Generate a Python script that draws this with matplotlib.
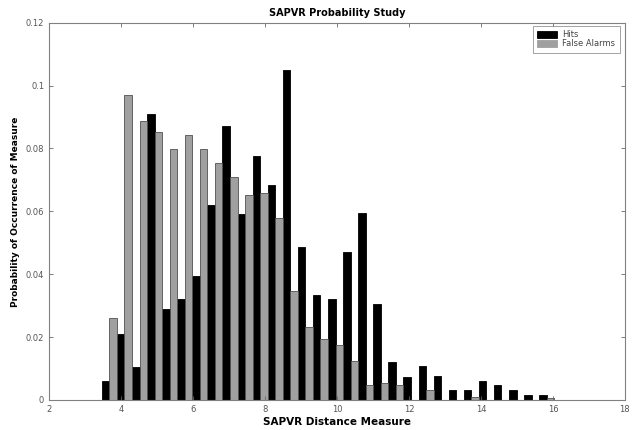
import numpy as np
import matplotlib
matplotlib.use("Agg")
import matplotlib.pyplot as plt

# bin centres of the histogram (pairs of bars share a bin)
first_bin = 3.676
bin_step = 0.419
n_bins = 30

hits = [0.006, 0.021, 0.0106, 0.091, 0.029, 0.032, 0.0395, 0.062, 0.087, 0.059,
        0.0775, 0.0685, 0.105, 0.0486, 0.0333, 0.032, 0.0472, 0.0594, 0.0304, 0.0122,
        0.0074, 0.0107, 0.0075, 0.003, 0.003, 0.0059, 0.0046, 0.003, 0.0015, 0.0015]
false_alarms = [0.026, 0.097, 0.0888, 0.0851, 0.0799, 0.0843, 0.0799, 0.0754, 0.0709, 0.0653,
                0.0658, 0.058, 0.0346, 0.0231, 0.0194, 0.0175, 0.0123, 0.0046, 0.0053, 0.0046,
                0.0, 0.0033, 0.0, 0.0, 0.0009, 0.0, 0.0, 0.0, 0.0, 0.0005]

xticks = [2, 4, 6, 8, 10, 12, 14, 16, 18]
yticks = [0, 0.02, 0.04, 0.06, 0.08, 0.1, 0.12]
ytick_labels = ["0", "0.02", "0.04", "0.06", "0.08", "0.1", "0.12"]

centers = first_bin + bin_step * np.arange(n_bins)
w = bin_step / 2

fig = plt.figure(figsize=(6.37, 4.3), dpi=100)
ax = fig.add_axes([0.077, 0.070, 0.904, 0.877])

ax.bar(centers - w / 2, hits, width=w, color='black', edgecolor='black',
       linewidth=0.6, label='Hits')
ax.bar(centers + w / 2, false_alarms, width=w, color='#a0a0a0', edgecolor='#505050',
       linewidth=0.6, label='False Alarms')

ax.set_xlim(2, 18)
ax.set_ylim(0, 0.12)
ax.set_xticks(xticks)
ax.set_yticks(yticks)
ax.set_yticklabels(ytick_labels)
ax.tick_params(direction='in', top=True, right=True, length=3, width=0.6,
               labelsize=6, colors='#666666', labelcolor='#555555')
for s in ax.spines.values():
    s.set_color('#808080')
    s.set_linewidth(0.8)

ax.set_title('SAPVR Probability Study', fontsize=7, fontweight='bold', pad=5)
ax.set_xlabel('SAPVR Distance Measure', fontsize=7.5, fontweight='bold', labelpad=2)
ax.set_ylabel('Probability of Occurrence of Measure', fontsize=6.5, fontweight='bold', labelpad=4)

leg = ax.legend(loc='upper right', bbox_to_anchor=(0.991, 0.992), borderaxespad=0,
                fontsize=6, frameon=True, fancybox=False, borderpad=0.55,
                handlelength=2.4, handleheight=1.0, labelspacing=0.0,
                handletextpad=0.6)
leg.get_frame().set_edgecolor('#777777')
leg.get_frame().set_linewidth(0.6)
for t in leg.get_texts():
    t.set_color('#444444')
for h in leg.legend_handles:
    h.set_edgecolor(h.get_facecolor())

fig.savefig('out.png', dpi=100)
